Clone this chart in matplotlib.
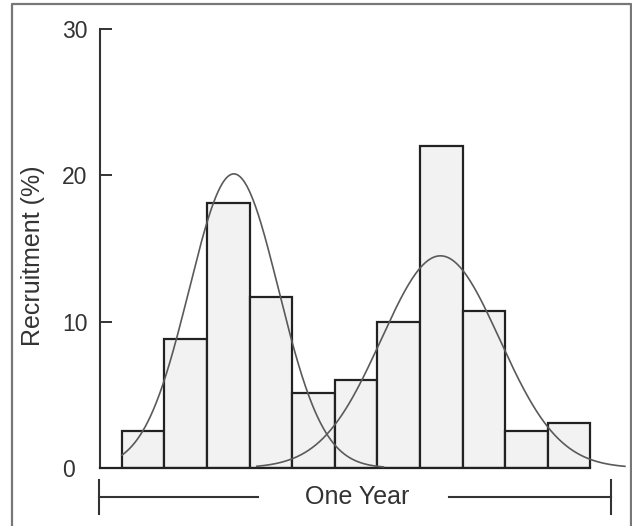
import numpy as np
import matplotlib
matplotlib.use("Agg")
import matplotlib.pyplot as plt
from matplotlib.lines import Line2D

plt.rcParams['font.family'] = ['Liberation Sans', 'DejaVu Sans']

# Data: recruitment (%) per interval across one year (11 bins)
bins = list(range(11))
recruitment = [2.5, 8.8, 18.1, 11.7, 5.1, 6.0, 10.0, 22.0, 10.7, 2.5, 3.1]
yticks = [0, 10, 20, 30]

# Fitted normal curves (peak position in bin units, peak height %, sigma in bins, drawn range)
peak1_pos, peak1_height, peak1_sigma, peak1_range = 2.63, 20.1, 1.05, (0.0, 6.14)
peak2_pos, peak2_height, peak2_sigma, peak2_range = 7.48, 14.5, 1.39, (3.17, 11.81)

W, H = 632, 526
fig = plt.figure(figsize=(W / 100, H / 100), dpi=100)
fig.patch.set_facecolor('white')

ax_left, ax_right = 100, 627
ax_top, ax_bot = 29, 468
ax = fig.add_axes([ax_left / W, 1 - ax_bot / H, (ax_right - ax_left) / W, (ax_bot - ax_top) / H])
ax.set_facecolor('none')

ax.bar([b + 0.5 for b in bins], recruitment, width=1.0, facecolor='#f2f2f2',
       edgecolor='#222222', linewidth=1.6, zorder=2)

for pos, h, s, (a, b) in [(peak1_pos, peak1_height, peak1_sigma, peak1_range),
                          (peak2_pos, peak2_height, peak2_sigma, peak2_range)]:
    xs = np.linspace(a, b, 300)
    ax.plot(xs, h * np.exp(-(xs - pos) ** 2 / (2 * s ** 2)), color='#5a5a5a', lw=1.2, zorder=3)

px_per_bin = 42.6
x0_px = 121.8
ax.set_xlim((ax_left - x0_px) / px_per_bin, (ax_right - x0_px) / px_per_bin)
ax.set_ylim(0, 30)

for sp in ['top', 'right']:
    ax.spines[sp].set_visible(False)
ax.spines['left'].set_linewidth(1.5)
ax.spines['left'].set_color('#333333')
ax.spines['bottom'].set_linewidth(1.6)
ax.spines['bottom'].set_color('#222222')
ax.spines['bottom'].set_bounds(ax.get_xlim()[0], len(bins))

ax.set_xticks([])
ax.set_yticks(yticks)
ax.set_yticklabels([str(t) for t in yticks])
ax.tick_params(axis='y', direction='in', length=8.6, width=1.4, color='#333333',
               pad=27.4, labelsize=16.5, labelcolor='#333333')
for lab in ax.get_yticklabels():
    lab.set_horizontalalignment('left')

fig.text(33 / W, 1 - 256 / H, 'Recruitment (%)', rotation=90, ha='center', va='center',
         fontsize=18, color='#333333')

# "One Year" span
lc = '#333333'
yl = 497
for (xa, xb) in [(99, 258), (449, 611)]:
    fig.add_artist(Line2D([xa / W, xb / W], [1 - yl / H] * 2, color=lc, lw=1.5))
for xt in [99, 611]:
    fig.add_artist(Line2D([xt / W] * 2, [1 - 480 / H, 1 - 514 / H], color=lc, lw=1.5))
fig.text(357 / W, 1 - yl / H, 'One Year', ha='center', va='center', fontsize=18, color=lc)

# outer frame
fig.add_artist(Line2D([12 / W, 12 / W, 631 / W, 631 / W], [0, 1 - 4 / H, 1 - 4 / H, 0],
                      color='#777777', lw=1.6))

fig.savefig('out.png', dpi=100, facecolor='white')
